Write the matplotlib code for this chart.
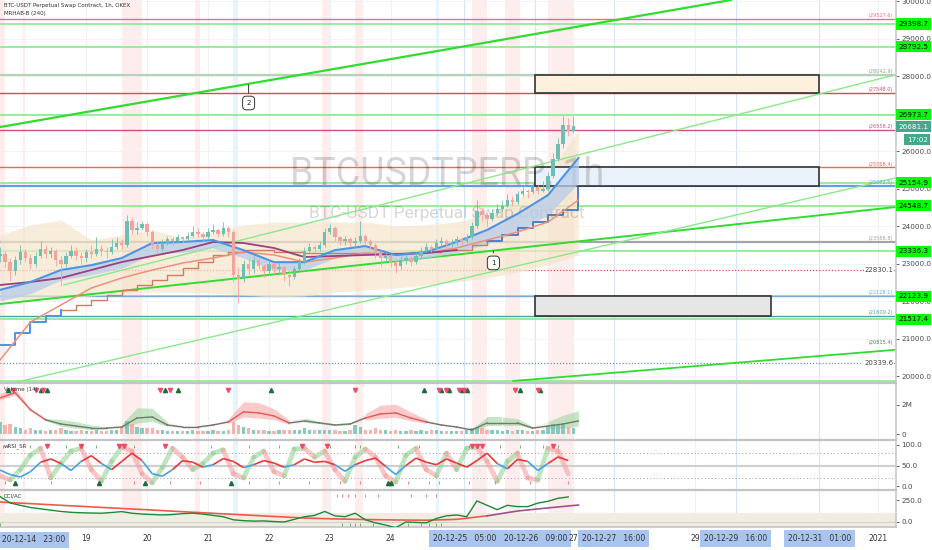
import numpy as np
import matplotlib
matplotlib.use("Agg")
import matplotlib.pyplot as plt
from matplotlib.collections import LineCollection
from matplotlib.patches import Rectangle
from matplotlib.transforms import blended_transform_factory

# x axis is in days from 2020-12-19 00:00; first bar is 2020-12-17 14:00
START = -1 - 10 / 24.0
XMAX = 13.3


def hours(h):
    return START + np.asarray(h, dtype=float) / 24.0


# ---- price data, 2h bars ----
closes = [23250, 23050, 22800, 23100, 23300, 23150, 23000, 23200, 23400, 23250,
          23350, 23100, 23000, 23200, 23350, 23200, 23150, 23300, 23250, 23400,
          23350, 23300, 23450, 23550, 23500, 24150, 23900, 23950, 24050, 23850,
          23500, 23400, 23550, 23650, 23600, 23700, 23650, 23750, 23850, 23800,
          23700, 23850, 23900, 23800, 23950, 23850, 22700, 22600, 23000, 22850,
          23100, 22950, 22800, 23000, 22850, 22900, 22700, 22650, 22850, 23050,
          23350, 23450, 23400, 23500, 23850, 23950, 23700, 23600, 23650, 23550,
          23600, 23750, 23600, 23500, 23300, 23150, 23200, 23050, 22950, 23100,
          23150, 23050, 23200, 23350, 23450, 23400, 23550, 23600, 23500, 23550,
          23650, 23600, 23700, 24000, 24400, 24300, 24200, 24350, 24450, 24550,
          24700, 24650, 24850, 24950, 24900, 25050, 24950, 25000, 25350, 25800,
          26200, 26700, 26550, 26681.1]
highs = [23450, 23350, 23150, 23200, 23500, 23400, 23250, 23300, 23600, 23500,
         23450, 23400, 23200, 23300, 23500, 23450, 23300, 23400, 23500, 23700,
         23500, 23450, 23650, 23700, 23650, 24300, 24250, 24100, 24150, 24100,
         23900, 23600, 23650, 23750, 23700, 23800, 23750, 23850, 24000, 23950,
         23850, 23950, 24050, 23950, 24100, 24000, 23900, 22900, 23100, 23150,
         23200, 23150, 23000, 23100, 23050, 23050, 22950, 22800, 22950, 23150,
         23450, 23550, 23500, 23600, 23950, 24050, 24000, 23750, 23750, 23700,
         23700, 24150, 23800, 23650, 23550, 23350, 23300, 23250, 23100, 23200,
         23250, 23200, 23300, 23450, 23550, 23500, 23650, 23700, 23650, 23650,
         23750, 23700, 23800, 24100, 24700, 24500, 24350, 24450, 24600, 24700,
         24850, 24800, 24950, 25050, 25000, 25150, 25100, 25200, 25450, 25950,
         26350, 26950, 26900, 26950]
lows = [23050, 22900, 22550, 22700, 23000, 23050, 22850, 22900, 23150, 23150,
        23150, 22950, 22400, 22900, 23150, 23100, 23000, 23050, 23150, 23200,
        23200, 23150, 23250, 23400, 23400, 23450, 23800, 23800, 23900, 23750,
        23400, 23250, 23350, 23500, 23500, 23550, 23550, 23600, 23700, 23700,
        23600, 23650, 23800, 23700, 23750, 23700, 22500, 21950, 22500, 22700,
        22750, 22850, 22650, 22700, 22700, 22750, 22550, 22400, 22600, 22800,
        23000, 23300, 23300, 23350, 23450, 23800, 23600, 23500, 23500, 23450,
        23450, 23550, 23500, 23400, 23150, 22950, 23050, 22900, 22750, 22850,
        23000, 22950, 23000, 23150, 23300, 23300, 23350, 23450, 23400, 23450,
        23500, 23500, 23550, 23650, 23950, 24150, 24000, 24150, 24300, 24400,
        24500, 24550, 24600, 24800, 24750, 24850, 24850, 24900, 24950, 25300,
        25750, 26100, 26400, 26500]
first_open = 23200
volume = [0.8, 0.6, 0.7, 0.5, 0.4, 0.3, 0.4, 0.3, 0.3, 0.2,
          0.3, 0.3, 0.4, 0.3, 0.2, 0.2, 0.3, 0.2, 0.2, 0.3,
          0.2, 0.2, 0.3, 0.3, 0.5, 0.9, 0.7, 0.5, 0.4, 0.4,
          0.4, 0.3, 0.3, 0.2, 0.2, 0.2, 0.2, 0.2, 0.3, 0.2,
          0.2, 0.2, 0.3, 0.2, 0.2, 0.3, 0.8, 0.6, 0.5, 0.4,
          0.3, 0.3, 0.3, 0.2, 0.2, 0.3, 0.3, 0.3, 0.3, 0.3,
          0.4, 0.3, 0.3, 0.3, 0.3, 0.3, 0.3, 0.2, 0.2, 0.3,
          0.6, 0.5, 0.3, 0.3, 0.4, 0.3, 0.3, 0.2, 0.3, 0.2,
          0.2, 0.3, 0.2, 0.3, 0.2, 0.3, 0.3, 0.2, 0.2, 0.2,
          0.2, 0.2, 0.3, 0.4, 0.5, 0.4, 0.3, 0.3, 0.3, 0.2,
          0.3, 0.2, 0.3, 0.3, 0.2, 0.2, 0.3, 0.3, 0.5, 0.7,
          0.6, 0.6, 0.5, 0.4]  # millions

# ---- overlays, 12h steps ----
band_top = [23765, 24032, 24165, 23631, 23765, 23898, 23685, 23845, 24032, 24112,
            24112, 24112, 24112, 24005, 24032, 24112, 24299, 24699, 25367, 26568]
band_bot = [22029, 22029, 22083, 22136, 22216, 22243, 22243, 22216, 22163, 22109,
            22136, 22243, 22296, 22350, 22430, 22510, 22617, 22777, 22964, 23231]
ema_fast = [22300, 22510, 22830, 22960, 23150, 23550, 23580, 23630, 23360, 23040,
            23040, 23360, 23470, 23230, 23310, 23580, 23900, 24330, 24830, 25820]
ema_fast_lo = [22000, 22200, 22560, 22700, 22880, 23250, 23300, 23420, 23150, 22830,
               22830, 23150, 23300, 23070, 23150, 23300, 23520, 23850, 24300, 25150]
ema_slow = [20427, 21442, 21896, 22350, 22617, 22830, 23017, 23151, 23311, 23231,
            23044, 23151, 23284, 23231, 23284, 23418, 23631, 23845, 24112, 24699]
ma_long = [22430, 22510, 22617, 22830, 23044, 23204, 23364, 23578, 23551, 23418,
           23178, 23204, 23231, 23258, 23284, 23364]
# trailing stop, 6h steps
trail_stop = [20828, 21150, 21442, 21600, 21762, 21900, 22029, 22160, 22296, 22430,
              22563, 22700, 22884, 23050, 23231, 23300, 23364, 23364, 23311, 23311,
              23284, 23284, 23284, 23284, 23284, 23284, 23284, 23311, 23311, 23364,
              23364, 23498, 23600, 23765, 23950, 24112, 24300, 24432, 25020]

# ---- levels ----
green_levels = [29398.7, 28792.5, 26973.7, 25154.9, 24548.7, 23336.3, 22123.9, 21517.4, 19860]
marked_levels = [29527.6, 28042.9, 27548.0, 26558.2, 25568.4, 25071.5, 23588.8, 22128.1, 21609.2]
marked_colors = ["#f07070", "#b5d3b5", "#e0455a", "#d04e8a", "#e8675a", "#5e9fec", "#a5a5a5",
                 "#7aaad8", "#4fa3a5"]
dotted_levels = [22830.1, 20339.6]
extra_label = 20815.4

# trend lines: (hour, price) pairs
trend_thick = [(0, 26648), (288, 30039)]
trend_mid = [(0, 21922), (353, 24512)]
trend_thin_a = [(25, 22430), (353, 28042.9)]
trend_thin_b = [(0, 19733), (353, 25287)]
trend_low = [(202, 19866), (353, 20700)]

# zones: start hour, end hour, low, high
zones = [(211, 323, 27548.0, 28042.9, "#fdf0dd"),
         (211, 323, 25071.5, 25568.4, "#e9f1fb"),
         (211, 304, 21609.2, 22128.1, "#e6e6e6")]

callouts = [("2", 98, 27850, 27290), ("1", 194.5, 23418, 23020)]

pink_sessions = [(0, 2), (9, 10), (48, 56), (77, 79), (127, 130), (140, 143),
                 (186, 192), (199, 205), (216, 226)]
blue_sessions = [(92, 94), (172, 173)]

# ---- volume indicator, 6h steps ----
vol_ma = [2.48, 2.83, 1.66, 0.97, 0.69, 0.55, 0.41, 0.41, 0.48, 1.10,
          1.17, 0.62, 0.48, 0.48, 0.62, 0.83, 1.52, 1.45, 1.24, 0.76,
          0.90, 0.76, 0.62, 0.69, 1.10, 1.38, 1.45, 1.10, 0.83, 0.62,
          0.48, 0.28, 0.76, 0.76, 0.76, 0.41, 0.55, 0.69, 0.90]
vol_spread = [0.3, 0.3, 0.1, 0.1, 0.3, 0.3, 0.2, 0.1, 0.2, 0.7,
              0.6, 0.2, 0.1, 0.1, 0.1, 0.2, 0.7, 0.7, 0.5, 0.2,
              0.2, 0.1, 0.1, 0.1, 0.3, 0.6, 0.6, 0.4, 0.2, 0.1,
              0.1, 0.1, 0.4, 0.4, 0.3, 0.1, 0.3, 0.6, 0.7]
vol_trend = [-1, -1, -1, 1, 1, 1, 1, 0, 1, 1,
             1, 0, 0, 0, 0, -1, -1, -1, -1, 0,
             1, 1, 1, 0, -1, -1, -1, -1, 0, 0,
             0, 1, 1, 1, 1, 0, 1, 1, 1]
vol_up_marks = [3, 16, 18.5, 65, 70, 107, 167, 174, 177, 182, 184, 205, 213]
vol_dn_marks = [5, 14, 17, 63, 67, 90, 140, 173, 176, 181, 183, 203, 212]

# ---- wRSI, 4h steps ----
rsi_slow = [39, 28, 22, 35, 58, 66, 55, 38, 60, 74,
            55, 40, 60, 80, 62, 30, 24, 40, 62, 58,
            46, 52, 67, 60, 45, 52, 62, 56, 46, 52,
            66, 58, 60, 52, 36, 52, 62, 68, 48, 28,
            50, 68, 58, 52, 66, 56, 46, 62, 80, 55,
            42, 65, 60, 38, 55, 71, 62]
rsi_fast = [25, 15, 40, 75, 92, 20, 55, 85, 92, 40,
            12, 60, 95, 85, 30, 8, 45, 92, 70, 40,
            55, 80, 88, 30, 20, 70, 85, 35, 25, 90,
            92, 70, 85, 40, 12, 70, 90, 70, 25, 10,
            75, 92, 40, 25, 80, 40, 92, 95, 60, 12,
            60, 80, 20, 15, 92, 85, 30]
rsi_dn_marks = [18.5, 32, 47, 49, 65, 119, 129, 186, 188, 190, 218]
rsi_up_marks = [6, 39, 57, 91, 153, 154]
rsi_top_ticks = [1, 12, 26, 38, 53, 65, 83, 98, 110, 130, 140, 142, 157, 165, 185, 197, 205, 214, 220]
rsi_bot_ticks = [2, 20, 53, 67, 79, 98, 110, 122, 134, 142, 161, 169, 173, 185, 195, 209, 224]

# ---- CCI, 4h steps; its average 12h steps ----
cci = [290, 216, 190, 165, 150, 135, 120, 110, 105, 102,
       100, 108, 118, 100, 90, 85, 80, 85, 95, 100,
       90, 75, 60, 25, 15, 10, 12, 5, 0, 30,
       60, 75, 120, 70, 60, 100, 25, -10, -35, -65,
       0, -5, -10, 40, 70, 80, 60, 240, 190, 140,
       190, 175, 175, 215, 235, 270, 285]
cci_ma = [227, 209, 190, 172, 154, 136, 117, 99, 81, 63,
          45, 35, 28, 23, 20, 30, 70, 125, 160, 193]
cci_top_ticks = [133, 135, 137, 140, 144, 149, 162, 168, 172]
cci_bot_ticks = [0, 135, 138, 140, 142, 147, 161, 166, 169, 172, 174]

# ---- x axis ----
tick_days = [0, 1, 2, 3, 4, 5, 6 + 5 / 24, 7 + 9 / 24, 8, 8 + 16 / 24, 10, 10 + 16 / 24, 12 + 1 / 24, 13]
tick_labels = ["19", "20", "21", "22", "23", "24", "20-12-25   05:00", "20-12-26   09:00", "27",
               "20-12-27   16:00", "29", "20-12-29   16:00", "20-12-31   01:00", "2021"]
marked_ticks = [6, 7, 9, 11, 12]

UP, DN = "#6cbfb2", "#f2a39b"
GRID = "#eef1f7"
FS = 5.2

W, H = 932.0, 550.0
fig = plt.figure(figsize=(W / 100, H / 100), dpi=100)
fig.patch.set_facecolor("white")


def rect(top, bottom):
    return [0, 1 - bottom / H, 896 / W, (bottom - top) / H]


ax = fig.add_axes(rect(0, 382))
axv = fig.add_axes(rect(383, 439), sharex=ax)
axr = fig.add_axes(rect(440, 489), sharex=ax)
axc = fig.add_axes(rect(490, 527), sharex=ax)
axes = [ax, axv, axr, axc]

for a in axes:
    a.set_xlim(START, XMAX)
    a.yaxis.tick_right()
    a.tick_params(axis="y", labelsize=FS, colors="#4a4a4a", length=2.5, pad=1.5, width=0.6)
    a.tick_params(axis="x", length=0, labelbottom=False)
    for s in ["left", "bottom", "top"]:
        a.spines[s].set_visible(False)
    a.spines["right"].set_color("#c8c8c8")
    a.spines["right"].set_linewidth(1.2)
    for d in tick_days:
        a.axvline(d, color=GRID, lw=0.8, zorder=0)
    for k in marked_ticks:
        a.axvline(tick_days[k], color="#d6e4f5", lw=0.8, zorder=0)
    for s0, s1 in pink_sessions:
        a.axvspan(hours(s0), hours(s1), color="#fde6e6", alpha=0.7, lw=0, zorder=0)
    for s0, s1 in blue_sessions:
        a.axvspan(hours(s0), hours(s1), color="#e2f2fb", alpha=0.8, lw=0, zorder=0)

for a in [axv, axr, axc]:
    a.spines["top"].set_visible(True)
    a.spines["top"].set_color("#c4c4c4")
    a.spines["top"].set_linewidth(1.6)
axc.spines["bottom"].set_visible(True)
axc.spines["bottom"].set_color("#c4c4c4")
axc.spines["bottom"].set_linewidth(1.2)

# ---- main panel ----
ax.set_ylim(19840, 30040)
yt = np.arange(20000, 30001, 1000)
ax.set_yticks(yt)
ax.set_yticklabels([f"{v:.1f}" for v in yt])
for v in yt:
    ax.axhline(v, color=GRID, lw=0.6, zorder=0)

for p in green_levels:
    ax.axhline(p, color="#93ea93", lw=1.3, zorder=1)
for p, col in zip(marked_levels, marked_colors):
    lw = 1.6 if p in (28042.9, 25071.5, 23588.8) else 1.0
    ax.axhline(p, color=col, lw=lw, zorder=1)
ax.axhline(dotted_levels[0], color="#e84545", lw=0.9, ls=(0, (1, 1.5)), zorder=1)
ax.axhline(dotted_levels[1], color="#6f8fc0", lw=0.9, ls=(0, (1, 1.5)), zorder=1)

for (h0, h1, lo, hi, col) in zones:
    ax.add_patch(Rectangle((hours(h0), lo), hours(h1) - hours(h0), hi - lo,
                           facecolor=col, edgecolor="#333333", lw=1.2, zorder=2))

t12 = hours(np.arange(len(band_top)) * 12)
ax.fill_between(t12, band_bot, band_top, color="#f6e4cc", alpha=0.7, lw=0, zorder=1.5)
ax.fill_between(t12, ema_fast_lo, ema_fast, color="#b7cdea", alpha=0.75, lw=0, zorder=3)
ax.plot(t12, ema_fast, color="#4d94e6", lw=1.5, zorder=3.5)
ax.plot(t12, ema_slow, color="#f0907a", lw=1.1, zorder=3.4)
ax.plot(hours(np.arange(len(ma_long)) * 12), ma_long, color="#9b3f7d", lw=1.3, zorder=3.4)
ts = np.array(trail_stop)
t6s = hours(np.arange(len(ts)) * 6)
ax.plot(t6s[4:33], ts[4:33], color="#c9805f", lw=1.0, drawstyle="steps-post", zorder=3.3)
ax.plot(t6s[:5], ts[:5], color="#4d94e6", lw=1.4, drawstyle="steps-post", zorder=3.3)
ax.plot(t6s[32:], ts[32:], color="#4d7fc6", lw=1.4, drawstyle="steps-post", zorder=3.3)

for pts, col, lw in [(trend_mid, "#2fdc2f", 1.4),
                     (trend_thin_a, "#8be88b", 1.0), (trend_thin_b, "#8be88b", 1.0),
                     (trend_low, "#2fdc2f", 1.3)]:
    (h0, p0), (h1, p1) = pts
    ax.plot([hours(h0), hours(h1)], [p0, p1], color=col, lw=lw, zorder=2.5,
            solid_capstyle="butt")
# the top line runs on past its second anchor
(h0, p0), (h1, p1) = trend_thick
ax.axline((hours(h0), p0), (hours(h1), p1), color="#2fdc2f", lw=1.6, zorder=2.5)

o = np.array([first_open] + closes[:-1], dtype=float)
c = np.array(closes, dtype=float)
tc = hours(np.arange(len(closes)) * 2)
cols = np.where(c >= o, UP, DN)
ax.vlines(tc, lows, highs, colors=cols, lw=0.6, zorder=4)
ax.bar(tc, np.maximum(np.abs(c - o), 20), bottom=np.minimum(o, c), width=0.055,
       color=cols, lw=0, zorder=5)

for txt, h, ptip, pbox in callouts:
    ax.annotate(txt, xy=(hours(h), ptip), xytext=(hours(h), pbox), fontsize=5,
                ha="center", va="center", color="#222",
                bbox=dict(boxstyle="round,pad=0.55", fc="white", ec="#333", lw=0.7),
                arrowprops=dict(arrowstyle="-", color="#333", lw=0.7), zorder=6)

ax.text(0.499, 0.545, "BTCUSDTPERP, 1h", transform=ax.transAxes, ha="center", va="center",
        fontsize=27, family="Roboto", color="#000000", alpha=0.16, zorder=2.2)
ax.text(0.499, 0.442, "BTC-USDT Perpetual Swap Contract", transform=ax.transAxes,
        ha="center", va="center", fontsize=12.5, family="Roboto", color="#000000",
        alpha=0.16, zorder=2.2)

tr = blended_transform_factory(ax.transAxes, ax.transData)
for p in green_levels[:-1]:
    ax.text(1.003, p, f"{p:.1f}", transform=tr, ha="left", va="center", fontsize=FS,
            color="black", clip_on=False, zorder=10,
            bbox=dict(boxstyle="square,pad=0.35", fc="#00ff00", ec="none"))
ax.text(1.003, closes[-1] - 20, f"{closes[-1]:.1f}", transform=tr, ha="left", va="center",
        fontsize=FS, color="white", clip_on=False, zorder=10,
        bbox=dict(boxstyle="square,pad=0.35", fc="#45a88c", ec="none"))
ax.text(1.012, closes[-1] - 370, "17:02", transform=tr, ha="left", va="center",
        fontsize=FS, color="white", clip_on=False, zorder=10,
        bbox=dict(boxstyle="square,pad=0.35", fc="#45a88c", ec="none"))
for p, col in zip(marked_levels, marked_colors):
    ax.text(0.997, p + 25, f"({p:.1f})", transform=tr, ha="right", va="bottom",
            fontsize=3.6, color=col if col != "#b5d3b5" else "#8aa88a", zorder=9)
ax.text(0.997, extra_label, f"({extra_label:.1f})", transform=tr, ha="right", va="bottom",
        fontsize=3.6, color="#4f7f4f", zorder=9)
ax.text(0.997, dotted_levels[0], f"{dotted_levels[0]:.1f}", transform=tr, ha="right",
        va="center", fontsize=5, color="#444", zorder=9,
        bbox=dict(boxstyle="square,pad=0.1", fc="white", ec="none"))
ax.text(0.997, dotted_levels[1], f"{dotted_levels[1]:.1f}", transform=tr, ha="right",
        va="center", fontsize=5, color="#444", zorder=9,
        bbox=dict(boxstyle="square,pad=0.1", fc="white", ec="none"))

# ---- volume panel ----
axv.set_ylim(-0.34, 3.5)
axv.set_yticks([0, 2])
axv.set_yticklabels(["0", "2M"])
axv.bar(tc, volume, width=0.055, color=cols, alpha=0.8, lw=0, zorder=2)
t6 = hours(np.arange(len(vol_ma)) * 6)
vm = np.array(vol_ma)
vs = np.array(vol_spread)
band_col = {1: "#9fd59f", -1: "#f7a8a8", 0: "#d8d8d8"}
line_col = {1: "#6c7d6c", -1: "#e25a5a", 0: "#7c6f67"}
for i in range(len(vm) - 1):
    st = vol_trend[i]
    sl = slice(i, i + 2)
    axv.fill_between(t6[sl], vm[sl] - vs[sl] * 0.5, vm[sl] + vs[sl], color=band_col[st],
                     alpha=0.6 if st else 0.3, lw=0, zorder=1)
    axv.plot(t6[sl], vm[sl], color=line_col[st], lw=1.0, zorder=3)
axv.plot(hours(vol_up_marks), np.full(len(vol_up_marks), 3.05), "^", ms=3, color="#1f6b3b",
         zorder=4)
axv.plot(hours(vol_dn_marks), np.full(len(vol_dn_marks), 3.05), "v", ms=3, color="#f04a6a",
         zorder=4)

# ---- wRSI panel ----
axr.set_ylim(-7, 112)
axr.set_yticks([0, 50, 100])
axr.set_yticklabels(["0.0", "50.0", "100.0"])
axr.axhline(50, color="#cfcfcf", lw=1.5, zorder=1)
axr.axhline(80, color="#9a9a9a", lw=0.7, ls=(0, (1, 2.5)), zorder=1)
axr.axhline(20, color="#9a9a9a", lw=0.7, ls=(0, (1, 2.5)), zorder=1)
t4 = hours(np.arange(len(rsi_slow)) * 4)
rf = np.array(rsi_fast, dtype=float)
segs = [[(t4[i], rf[i]), (t4[i + 1], rf[i + 1])] for i in range(len(rf) - 1)]
fcols = ["#8fcf8f" if rf[i + 1] > rf[i] else "#f59a9a" for i in range(len(rf) - 1)]
axr.add_collection(LineCollection(segs, colors=fcols, linewidths=3.5, alpha=0.55, zorder=2,
                                  capstyle="round"))
rs = np.array(rsi_slow, dtype=float)
segs = [[(t4[i], rs[i]), (t4[i + 1], rs[i + 1])] for i in range(len(rs) - 1)]
scols = ["#e83838" if (rs[i] + rs[i + 1]) / 2 >= 50 else "#45a4e6" for i in range(len(rs) - 1)]
axr.add_collection(LineCollection(segs, colors=scols, linewidths=1.2, zorder=3))
axr.vlines(hours(rsi_top_ticks), 93, 101, color="#5aa85a", lw=0.6, zorder=3)
axr.vlines(hours(rsi_bot_ticks), 4, 12, color="#f06a6a", lw=0.6, zorder=3)
axr.plot(hours(rsi_dn_marks), np.full(len(rsi_dn_marks), 97), "v", ms=3, color="#f04a6a",
         zorder=4)
axr.plot(hours(rsi_up_marks), np.full(len(rsi_up_marks), 8), "^", ms=3, color="#1f6b3b",
         zorder=4)

# ---- CCI panel ----
axc.set_ylim(-57, 364)
axc.set_yticks([0, 250])
axc.set_yticklabels(["0.0", "250.0"])
axc.axhspan(-100, 100, color="#f2ede3", lw=0, zorder=0.5)
axc.axhline(0, color="#d0d0d0", lw=0.8, zorder=1)
axc.plot(t4, cci, color="#1b8a3a", lw=1.0, zorder=3)
cm = np.array(cci_ma, dtype=float)
axc.plot(t12[:17], cm[:17], color="#ef5a4a", lw=1.2, zorder=2)
axc.plot(t12[16:], cm[16:], color="#a0508f", lw=1.2, zorder=2)
axc.vlines(hours(cci_top_ticks), 280, 320, color="#f06a6a", lw=0.6, zorder=3)
axc.vlines(hours(cci_bot_ticks), -50, -15, color="#5aa85a", lw=0.6, zorder=3)

# x tick labels
axc.set_xticks(tick_days)
axc.set_xticklabels(tick_labels)
axc.tick_params(axis="x", labelbottom=True, labelsize=5.5, colors="#333", pad=5)
for k, lab in enumerate(axc.get_xticklabels()):
    if k in marked_ticks:
        lab.set_bbox(dict(boxstyle="square,pad=0.5", fc="#a9c4ef", ec="none"))
fig.text(2 / W, 1 - 540 / H, "20-12-14   23:00", fontsize=5.5, color="#333", va="center",
         ha="left", bbox=dict(boxstyle="square,pad=0.5", fc="#a9c4ef", ec="none"))

# headers
fig.text(4 / W, 1 - 6 / H, "BTC-USDT Perpetual Swap Contract, 1h, OKEX", fontsize=4,
         color="#333", va="center")
fig.text(4 / W, 1 - 14 / H, "MRHAB-B (240)", fontsize=4, color="#333", va="center")
fig.text(4 / W, 1 - 389 / H, "Volume (14)", fontsize=4, color="#333", va="center")
fig.text(4 / W, 1 - 446 / H, "wRSI_SR", fontsize=4, color="#333", va="center")
fig.text(4 / W, 1 - 496 / H, "CCI/AC", fontsize=4, color="#333", va="center")

fig.savefig("out.png", dpi=100)
